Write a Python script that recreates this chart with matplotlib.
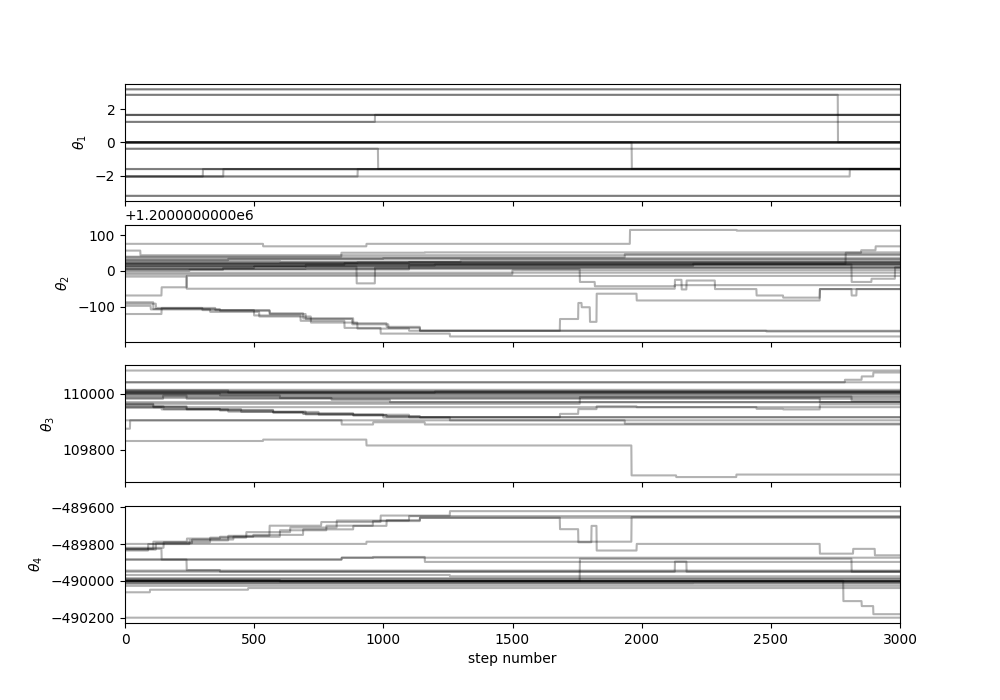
import numpy as np
import matplotlib
matplotlib.use("Agg")
import matplotlib.pyplot as plt
from matplotlib.ticker import ScalarFormatter

n_steps = 3000
labels = [r"$\theta_1$", r"$\theta_2$", r"$\theta_3$", r"$\theta_4$"]

# Each walker: (change-point steps, values held from that step on)
theta1_walkers = [
    ([0], [3.18]), ([0], [3.18]), ([0], [2.85]),
    ([0, 2760], [2.85, 0.02]),
    ([0], [1.65]), ([0], [1.65]), ([0], [1.64]),
    ([0, 968], [1.23, 1.65]), ([0], [1.23]),
    ([0], [0.02]), ([0], [0.0]), ([0], [0.0]), ([0], [-0.01]), ([0], [0.01]), ([0], [0.0]),
    ([0, 980], [-0.38, -1.58]), ([0], [-0.38]),
    ([0, 1962], [0.0, -1.58]),
    ([0], [-1.6]), ([0], [-1.59]),
    ([0, 302], [-2.04, -1.6]), ([0, 381], [-2.04, -1.6]),
    ([0, 901], [-2.04, -1.6]), ([0, 2806], [-2.04, -1.6]),
    ([0], [-3.2]), ([0], [-3.2]),
]

theta2_base = 1.2e6
theta2_walkers = [
    ([0, 535, 935, 1955, 2368], [76, 69, 76, 115, 113]),
    ([0, 142, 239], [-69, -46, -14]),
    ([0, 239, 2129, 2155, 2174, 2284, 2445, 2548, 2690], [-16, -50, -25, -52, -27, -51, -69, -75, -51]),
    ([0, 897, 968], [12, -35, 9]),
    ([0, 110, 368, 561, 690, 884, 1013, 1142, 1684, 1755, 1768, 1800, 1826, 1981, 2690, 2813, 2832],
     [-88, -107, -112, -119, -133, -147, -157, -168, -135, -90, -102, -143, -64, -83, -51, -69, -51]),
    ([0, 120, 350, 560, 700, 880, 1020, 1142, 2483], [-92, -104, -110, -121, -135, -150, -160, -168, -170]),
    ([0, 142, 300, 500, 680, 850, 990, 1258], [-121, -104, -110, -125, -140, -160, -176, -184]),
    ([0, 100, 330, 520, 720, 900, 1100], [-98, -108, -115, -128, -145, -162, -168]),
    ([0, 838, 1161], [40, 51, 52]),
    ([0, 1935], [38, 47]),
    ([0, 2790, 2850, 2906], [20, 51, 58, 69]),
    ([0, 400, 1000], [30, 34, 36]),
    ([0, 250, 380, 500, 700, 850, 1100], [0, 3, 8, 12, 17, 22, 25]),
    ([0, 600, 1300], [28, 26, 30]),
    ([0, 900], [22, 24]),
    ([0, 1200, 2813, 2890, 2981], [15, 18, -31, -22, 10]),
    ([0, 500], [10, 12]),
    ([0, 1761, 1819, 2129], [5, -31, -43, -40]),
    ([0], [18]),
    ([0, 700], [6, 8]),
    ([0], [-5]),
    ([0, 1500], [-10, 2]),
    ([0, 60], [57, 44]),
    ([0], [33]),
    ([0, 2200], [14, 20]),
    ([0], [24]),
    ([0], [20]),
    ([0, 1100], [4, 16]),
]

theta3_walkers = [
    ([0], [110083]),
    ([0, 2787, 2852, 2897], [110041, 110050, 110062, 110076]),
    ([0], [110041]),
    ([0], [110014]), ([0], [110010]), ([0], [110006]), ([0], [110006]),
    ([0, 1200], [110004, 110008]), ([0], [110002]), ([0], [109999]),
    ([0, 400], [110012, 110004]),
    ([0, 148, 239], [109982, 109994, 109982]),
    ([0], [109970]),
    ([0, 368, 600, 800, 1026], [110000, 109994, 109985, 109978, 109970]),
    ([0, 1761], [109964, 109988]),
    ([0, 110, 239, 368, 574, 690, 884, 1013, 1142], [109964, 109955, 109946, 109942, 109934, 109930, 109924, 109920, 109916]),
    ([0, 110, 239, 368, 574, 690, 884, 1013, 1142, 1684, 1755, 1826, 1981, 2445, 2548, 2690],
     [109960, 109952, 109944, 109940, 109932, 109928, 109922, 109918, 109916, 109928, 109945, 109955, 109952, 109946, 109944, 109962]),
    ([0, 142, 400, 700, 1000, 1258], [109950, 109944, 109936, 109926, 109915, 109905]),
    ([0, 150, 450, 750, 1100], [109955, 109945, 109935, 109925, 109916]),
    ([0, 839, 961, 1161], [109905, 109890, 109898, 109890]),
    ([0, 20, 1935], [109875, 109905, 109893]),
    ([0, 535, 935, 1961, 2134, 2367], [109831, 109836, 109815, 109708, 109702, 109711]),
    ([0], [109952]),
    ([0, 2813], [109990, 109975]),
    ([0], [109994]),
    ([0, 2690], [109985, 109970]),
]

theta4_walkers = [
    ([0, 110, 240, 368, 497, 690, 884, 1013, 1142, 1684, 1755, 1806, 1826, 1981, 2690, 2819, 2903],
     [-489826, -489787, -489770, -489760, -489750, -489720, -489701, -489670, -489657, -489719, -489790, -489701,
      -489835, -489799, -489852, -489826, -489861]),
    ([0, 120, 260, 420, 600, 780, 960, 1142], [-489830, -489795, -489775, -489760, -489725, -489700, -489675, -489657]),
    ([0, 90, 250, 400, 560, 760, 990, 1258], [-489835, -489800, -489780, -489755, -489700, -489680, -489645, -489621]),
    ([0, 150, 330, 470, 640, 820, 1100], [-489820, -489790, -489765, -489735, -489710, -489672, -489648]),
    ([0, 935, 1961], [-489799, -489787, -489653]),
    ([0, 142, 239, 368], [-489826, -489884, -489941, -489950]),
    ([0, 839, 961, 1161], [-489884, -489874, -489870, -489897]),
    ([0, 839], [-489884, -489874]),
    ([0, 1761, 2813], [-490000, -489880, -489950]),
    ([0, 2781, 2852, 2897], [-490000, -490110, -490137, -490181]),
    ([0, 2129, 2174], [-489950, -489895, -489950]),
    ([0, 97, 477], [-490062, -490048, -490039]),
    ([0], [-490027]),
    ([0], [-490200]),
    ([0], [-490000]), ([0], [-490000]), ([0], [-490000]), ([0], [-490002]),
    ([0], [-490005]), ([0], [-489990]),
    ([0, 1258], [-489968, -489975]),
    ([0], [-489985]),
    ([0, 2200], [-490012, -490010]),
    ([0, 600], [-489995, -490003]),
    ([0], [-490015]),
    ([0], [-489944]),
]


def expand(steps, values, base=0.0):
    idx = np.searchsorted(np.asarray(steps), np.arange(n_steps), side="right") - 1
    return base + np.asarray(values, dtype=float)[idx]


class LongOffsetFormatter(ScalarFormatter):
    def get_offset(self):
        if self.offset:
            e = int(np.floor(np.log10(abs(self.offset))))
            sig = self.offset / 10 ** e
            return "%+1.10fe%d" % (sig, e)
        return super().get_offset()


panels = [
    (theta1_walkers, 0.0),
    (theta2_walkers, theta2_base),
    (theta3_walkers, 0.0),
    (theta4_walkers, 0.0),
]

fig, axes = plt.subplots(4, figsize=(10, 7), sharex=True)
for ax, (walkers, base), lab in zip(axes, panels, labels):
    ax.yaxis.set_major_formatter(LongOffsetFormatter())
    for steps, values in walkers:
        ax.plot(expand(steps, values, base), "k", alpha=0.3)
    ax.set_xlim(0, n_steps)
    ax.set_ylabel(lab)
axes[-1].set_xlabel("step number")
fig.savefig("out.png", dpi=100)
